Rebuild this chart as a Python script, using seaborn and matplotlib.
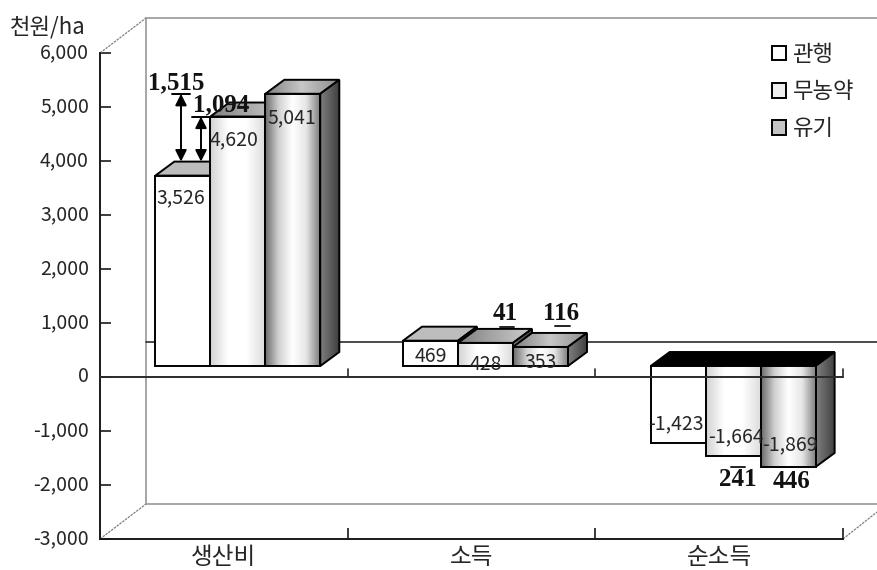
import numpy as np
import pandas as pd
import matplotlib
matplotlib.use("Agg")
import matplotlib.pyplot as plt
from matplotlib.patches import Polygon, Patch
import seaborn as sns

# Values in thousand won per hectare
categories = ["생산비", "소득", "순소득"]
series_names = ["관행", "무농약", "유기"]
conventional = [3526, 469, -1423]
pesticide_free = [4620, 428, -1664]
organic = [5041, 353, -1869]
y_ticks = [-3000, -2000, -1000, 0, 1000, 2000, 3000, 4000, 5000, 6000]
difference_notes = ["1,515", "1,094", "41", "116", "241", "446"]

W, H = 877, 570
AX_L, AX_R, AX_T, AX_B = 100, 843, 53, 539
SANS = ["Noto Sans CJK KR", "DejaVu Sans"]

sns.set_theme(style="white")
plt.rcParams["font.family"] = SANS
plt.rcParams["axes.unicode_minus"] = False

fig = plt.figure(figsize=(W / 100, H / 100), dpi=100)
ax = fig.add_axes([AX_L / W, 1 - AX_B / H, (AX_R - AX_L) / W, (AX_B - AX_T) / H])

df = pd.DataFrame({
    "category": categories * 3,
    "series": np.repeat(series_names, 3),
    "value": conventional + pesticide_free + organic,
})
sns.barplot(data=df, x="category", y="value", hue="series", order=categories,
            hue_order=series_names, width=0.666, gap=0, legend=False, ax=ax,
            errorbar=None, dodge=True)

XLIM = (-0.5, 2.5)
YLIM = (-3000, 6000)
ax.set_autoscale_on(False)
ax.set_xlim(*XLIM)
ax.set_ylim(*YLIM)


def px_w(p):
    return p * (XLIM[1] - XLIM[0]) / (AX_R - AX_L)


def px_h(p):
    return p * (YLIM[1] - YLIM[0]) / (AX_B - AX_T)


def px_x(p):
    return XLIM[0] + px_w(p - AX_L)


def px_y(p):
    return YLIM[1] - px_h(p - AX_T)


def fill(verts, stops, z, edge="black", lw=1.4):
    """Paint a polygon with a horizontal grey gradient and outline it."""
    verts = np.asarray(verts)
    xp = np.linspace(0, 1, len(stops))
    row = np.interp(np.linspace(0, 1, 256), xp, stops)[None, :]
    im = ax.imshow(row, cmap="gray", vmin=0, vmax=1, aspect="auto",
                   interpolation="bilinear", zorder=z,
                   extent=(verts[:, 0].min(), verts[:, 0].max(),
                           verts[:, 1].min(), verts[:, 1].max()))
    im.set_clip_path(Polygon(verts, transform=ax.transData))
    ax.add_patch(Polygon(verts, closed=True, fill=False, edgecolor=edge,
                         linewidth=lw, zorder=z + 0.05, joinstyle="miter"))


# Box walls behind the plot
BACK_X, BACK_Y = px_w(46), px_h(35)
WALL = "#a6a6a6"
wx0 = XLIM[0] + BACK_X
wx1 = px_x(W)
wy0 = YLIM[0] + BACK_Y
wy1 = YLIM[1] + BACK_Y
ax.plot([wx0, wx0], [wy0, wy1], color=WALL, lw=1.4, clip_on=False, zorder=1)
ax.plot([wx0, wx1], [wy1, wy1], color=WALL, lw=1.4, clip_on=False, zorder=1)
ax.plot([wx0, wx1], [wy0, wy0], color=WALL, lw=1.4, clip_on=False, zorder=1)
ax.plot([wx0, wx1], [BACK_Y, BACK_Y], color="#3c3c3c", lw=1.3, clip_on=False, zorder=1)
for x, y, tx, ty in [(XLIM[0], YLIM[1], wx0, wy1), (XLIM[0], YLIM[0], wx0, wy0),
                     (XLIM[1], YLIM[0], wx1, px_y(512))]:
    ax.plot([x, tx], [y, ty], color="#808080", lw=0.9, ls=(0, (2, 0.8)),
            clip_on=False, zorder=1)

# Extrude every bar into a box: bars sit partway into the floor depth
SHIFT_X, SHIFT_Y = px_w(14), px_h(11)
DEPTH_X, DEPTH_Y = px_w(19), px_h(14)
front_stops = [[1, 1], [0.82, 1, 1, 0.86], [0.42, 0.82, 1, 0.9, 0.5]]
top_stops = [[0.74, 0.74], [0.5, 0.66, 0.8], [0.5, 0.78, 0.55]]
side_stops = [0.5, 0.25]

for s, container in enumerate(ax.containers):
    z = 3 + s
    for g, bar in enumerate(container):
        x0 = bar.get_x() + SHIFT_X
        x1 = x0 + bar.get_width()
        v = bar.get_height() + bar.get_y()
        hi = max(v, 0) + SHIFT_Y
        lo = min(v, 0) + SHIFT_Y
        top = [0, 0] if g == 2 else top_stops[s]
        fill([(x0, hi), (x1, hi), (x1 + DEPTH_X, hi + DEPTH_Y), (x0 + DEPTH_X, hi + DEPTH_Y)],
             top, z)
        fill([(x1, hi), (x1 + DEPTH_X, hi + DEPTH_Y), (x1 + DEPTH_X, lo + DEPTH_Y), (x1, lo)],
             side_stops, z + 0.1)
        fill([(x0, hi), (x1, hi), (x1, lo), (x0, lo)], front_stops[s], z + 0.2)
        bar.set_visible(False)

# Value labels on the bar faces
label_px = [[(181, 198), (431, 357), (676, 424)],
            [(234, 140), (486, 364), (736, 437)],
            [(292, 118), (541, 362), (790, 445)]]
for s, vals in enumerate([conventional, pesticide_free, organic]):
    for g, v in enumerate(vals):
        px, py = label_px[s][g]
        ax.text(px_x(px), px_y(py), f"{v:,}", fontsize=14, color="#262626",
                ha="center", va="center", zorder=8)

# Front zero line crosses the bars
ax.plot(XLIM, [0, 0], color="#2b2b2b", lw=1.4, zorder=7, clip_on=False)
for xb in [0.5, 1.5, 2.5]:
    ax.plot([xb, xb], [0, px_h(8)], color="#2b2b2b", lw=1.2, zorder=7, clip_on=False)

# Cost-gap arrows from the conventional bar up to the other two
arrow_bottom = conventional[0] + SHIFT_Y + DEPTH_Y
for tip, xpx in [(organic[0], 181), (pesticide_free[0], 201)]:
    ytop = tip + SHIFT_Y
    ax.annotate("", xy=(px_x(xpx), ytop), xytext=(px_x(xpx), arrow_bottom),
                arrowprops=dict(arrowstyle="<|-|>", color="black", lw=1.4,
                                shrinkA=0, shrinkB=0, mutation_scale=17), zorder=9)
    ax.plot([px_x(xpx - 9), px_x(xpx + 9)], [ytop, ytop], color="black", lw=1.4, zorder=9)

# Short marker strokes above the difference notes
for xa, xb, yv in [(500, 514, conventional[1] + SHIFT_Y + DEPTH_Y),
                   (555, 570, conventional[1] + SHIFT_Y + DEPTH_Y + px_h(1)),
                   (731, 745, organic[2] + SHIFT_Y)]:
    ax.plot([px_x(xa), px_x(xb)], [yv, yv], color="#222222", lw=1.4, zorder=9)

# Bold notes stating the differences between systems
note_px = [(176, 83), (221, 105), (505, 313), (561, 314), (738, 480), (791, 481)]
for note, (px, py) in zip(difference_notes, note_px):
    ax.text(px_x(px), px_y(py), note, family="Liberation Serif", weight="bold",
            fontsize=18, color="#111111", ha="center", va="center", zorder=10)

# Axes, ticks and labels
sns.despine(ax=ax)
for name in ["left", "bottom"]:
    ax.spines[name].set_color("#1a1a1a")
    ax.spines[name].set_linewidth(1.4)
ax.set_xlabel("")
ax.set_ylabel("")
ax.set_yticks(y_ticks, [f"{t:,}" for t in y_ticks])
ax.set_xticks(range(3), categories)
ax.set_xticks([0.5, 1.5, 2.5], minor=True)
ax.tick_params(axis="y", which="major", direction="in", length=8, width=1.2,
               color="#1a1a1a", labelsize=14, labelcolor="#262626", pad=8, left=True)
ax.tick_params(axis="x", which="major", length=0, labelsize=17, labelcolor="#262626", pad=5)
ax.tick_params(axis="x", which="minor", direction="in", length=8, width=1.2,
               color="#1a1a1a", bottom=True)
for lab in ax.get_yticklabels():
    lab.set_verticalalignment("center")

fig.text(10 / W, 1 - 27 / H, "천원/ha", fontsize=16, color="#262626", ha="left", va="center")

handles = [Patch(facecolor=c, edgecolor="black", linewidth=1.4, label=n)
           for c, n in zip(["white", "#efefef", "#c4c4c4"], series_names)]
leg = ax.legend(handles=handles, loc="upper left", frameon=False, fontsize=16,
                bbox_to_anchor=(772 / W, 1 - 43 / H), bbox_transform=fig.transFigure,
                handlelength=0.62, handleheight=0.62, handletextpad=0.3,
                labelspacing=0.64, borderpad=0, borderaxespad=0)
leg.set_zorder(11)
for t in leg.get_texts():
    t.set_color("#262626")

fig.savefig("out.png", dpi=100, facecolor="white")
